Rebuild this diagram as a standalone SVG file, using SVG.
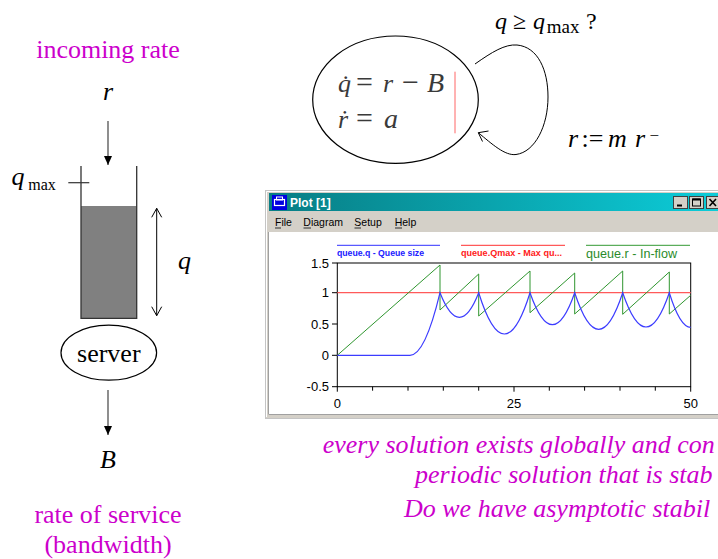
<svg xmlns="http://www.w3.org/2000/svg" width="718" height="559" viewBox="0 0 718 559">
<style>
.serif{font-family:"Liberation Serif","Times New Roman",serif;font-size:26px;fill:#000}
.it{font-style:italic}
.mag{fill:#cc00cc}
.eq{font-family:"Liberation Serif","Times New Roman",serif;font-size:26px;fill:#3a3a3a}
.sans{font-family:"Liberation Sans",Arial,sans-serif}
.menu{font-family:"Liberation Sans",Arial,sans-serif;font-size:10.5px;fill:#000}
.ax{font-family:"Liberation Sans",Arial,sans-serif;font-size:13px;fill:#000}
.line{stroke:#444;stroke-width:1.2;fill:none}
.open{stroke:#000;stroke-width:1;fill:none}
</style>
<defs>
<linearGradient id="tb" x1="0" y1="0" x2="1" y2="0">
<stop offset="0" stop-color="#087d84"/>
<stop offset="1" stop-color="#0cccd8"/>
</linearGradient>
<marker id="fill" markerUnits="userSpaceOnUse" markerWidth="10" markerHeight="10" viewBox="0 0 10 10" refX="9" refY="5" orient="auto">
<path d="M0,1 L9,5 L0,9 Z" fill="#000"/>
</marker>
<marker id="openarr" markerUnits="userSpaceOnUse" markerWidth="12" markerHeight="12" viewBox="0 0 12 12" refX="10" refY="6" orient="auto">
<path d="M1,1 L10,6 L1,11" fill="none" stroke="#000" stroke-width="1"/>
</marker>
</defs>
<rect width="718" height="559" fill="#fff"/>

<!-- left labels -->
<g id="incoming">
<text class="serif mag" x="108" y="58" text-anchor="middle">incoming rate</text>
<text class="serif it" x="108" y="100" text-anchor="middle">r</text>
</g>

<g id="queue">
<rect x="81" y="206" width="55.7" height="112.3" fill="#808080"/>
<path d="M81,166 V318.3 H136.7 V166" fill="none" stroke="#333" stroke-width="1.3"/>
<line x1="68.3" y1="182.7" x2="89.3" y2="182.7" stroke="#333" stroke-width="1.2"/>
<text class="serif it" x="11.5" y="185">q</text>
<text class="serif" x="28.3" y="189.5" style="font-size:16px">max</text>
<text class="serif it" x="178" y="269">q</text>
</g>

<g id="server">
<ellipse cx="108.8" cy="352.7" rx="47.8" ry="27.5" fill="none" stroke="#000" stroke-width="1.2"/>
<text class="serif" x="108.8" y="361.7" text-anchor="middle">server</text>
</g>

<g id="service">
<text class="serif it" x="108" y="468" text-anchor="middle">B</text>
<text class="serif mag" x="108" y="522.7" text-anchor="middle">rate of service</text>
<text class="serif mag" x="108" y="553" text-anchor="middle">(bandwidth)</text>
</g>

<!-- hybrid automaton state -->
<g id="state">
<ellipse cx="395.5" cy="99.7" rx="82.8" ry="63.7" fill="none" stroke="#000" stroke-width="1.2"/>
<text class="eq it" x="338" y="92">q̇</text>
<text class="eq" x="356" y="92" style="font-size:30px">=</text>
<text class="eq it" x="383" y="92">r</text>
<text class="eq" x="402" y="92" style="font-size:30px">−</text>
<text class="eq it" x="427" y="92" style="font-size:28px">B</text>
<text class="eq it" x="338" y="128">ṙ</text>
<text class="eq" x="356" y="128" style="font-size:30px">=</text>
<text class="eq it" x="384" y="128" style="font-size:28px">a</text>
<line x1="455" y1="71.7" x2="455" y2="133.3" stroke="#ff6666" stroke-width="1"/>
</g>

<g id="transition-labels">
<text class="serif it" x="495" y="28.5" style="font-size:24px">q</text>
<text class="serif" x="513" y="28.5" style="font-size:24px">≥</text>
<text class="serif it" x="533" y="28.5" style="font-size:24px">q</text>
<text class="serif" x="546.7" y="33.3" style="font-size:19px">max</text>
<text class="serif" x="586" y="28.5" style="font-size:24px">?</text>
<text class="serif it" x="568" y="146.7">r</text>
<text class="serif" x="581.5" y="146.7">:=</text>
<text class="serif it" x="608" y="146.7">m</text>
<text class="serif it" x="635" y="146.7">r</text>
<text class="serif" x="649.5" y="141" style="font-size:17px">−</text>
</g>

<!-- connectors -->
<g id="connectors">
<line class="line" x1="108" y1="121" x2="108" y2="165" marker-end="url(#fill)"/>
<line class="line" x1="108" y1="390" x2="108" y2="435" marker-end="url(#fill)"/>
<line class="open" x1="156.7" y1="262" x2="156.7" y2="208.3" marker-end="url(#openarr)"/>
<line class="open" x1="156.7" y1="262" x2="156.7" y2="315.7" marker-end="url(#openarr)"/>
<path class="open" d="M475,64 C492,52 505,44 517,45 C538,47 548,70 548,97 C548,126 535,152 516,154.5 C505,156 492,144 478.3,132.7"/>
<path class="open" d="M482.5,141.5 L478.3,132.7 L488.5,131"/>
</g>

<!-- plot window -->
<g id="plot">
<rect x="265.5" y="190.5" width="460" height="228" fill="#d4d0c8" stroke="#c4c4c4"/>
<line x1="266.5" y1="191.5" x2="718" y2="191.5" stroke="#fff"/>
<line x1="266.5" y1="191.5" x2="266.5" y2="417" stroke="#fff"/>
<rect x="269" y="193" width="449" height="18" fill="url(#tb)"/>
<rect x="272" y="195" width="15" height="15" fill="#0000e0"/>
<rect x="274.5" y="199.5" width="10" height="6" fill="none" stroke="#fff" stroke-width="1.2"/>
<rect x="276.5" y="197" width="6" height="3" fill="none" stroke="#fff" stroke-width="1"/>
<text class="sans" x="290" y="206.5" font-size="12" font-weight="bold" fill="#fff">Plot [1]</text>
<g stroke="#000" stroke-width="1">
<rect x="673.5" y="196.5" width="14" height="12" fill="#d4d0c8" stroke="#404040"/>
<line x1="677" y1="205.5" x2="682" y2="205.5" stroke-width="2"/>
<rect x="689.5" y="196.5" width="14" height="12" fill="#d4d0c8" stroke="#404040"/>
<rect x="692.5" y="199" width="8" height="7" fill="none"/>
<line x1="692.5" y1="199.5" x2="700.5" y2="199.5" stroke-width="2"/>
<rect x="706.5" y="196.5" width="14" height="12" fill="#d4d0c8" stroke="#404040"/>
<path d="M709.5,199 L716,206 M716,199 L709.5,206" stroke-width="1.6"/>
</g>
<text class="menu" x="275" y="226">File</text>
<text class="menu" x="303.3" y="226">Diagram</text>
<text class="menu" x="354.3" y="226">Setup</text>
<text class="menu" x="394.7" y="226">Help</text>
<g stroke="#000" stroke-width="0.8">
<line x1="275" y1="228" x2="281" y2="228"/>
<line x1="303.5" y1="228" x2="311" y2="228"/>
<line x1="354.5" y1="228" x2="361" y2="228"/>
<line x1="395" y1="228" x2="402" y2="228"/>
</g>
<rect x="269" y="232" width="449" height="182" fill="#fff"/>
<line x1="269" y1="414.5" x2="718" y2="414.5" stroke="#a0a0a0"/>
<line x1="268.5" y1="232" x2="268.5" y2="414.5" stroke="#a0a0a0"/>

<!-- legend -->
<line x1="337" y1="245.3" x2="440" y2="245.3" stroke="#3030ff"/>
<line x1="461" y1="245.3" x2="565" y2="245.3" stroke="#ff3030"/>
<line x1="586" y1="245.3" x2="690" y2="245.3" stroke="#339933"/>
<text class="sans" x="337" y="255.5" font-size="9" font-weight="bold" fill="#2020ff" textLength="87" lengthAdjust="spacingAndGlyphs">queue.q - Queue size</text>
<text class="sans" x="461" y="255.5" font-size="9" font-weight="bold" fill="#ff2020" textLength="101" lengthAdjust="spacingAndGlyphs">queue.Qmax - Max qu...</text>
<text class="sans" x="586" y="258" font-size="12.5" fill="#2a8a2a" textLength="91" lengthAdjust="spacingAndGlyphs">queue.r - In-flow</text>

<!-- axes -->
<rect x="337.3" y="263" width="353.4" height="123.7" fill="none" stroke="#000" stroke-width="1"/>
<g stroke="#000" stroke-width="1">
<line x1="332" y1="263" x2="337.3" y2="263"/>
<line x1="332" y1="292.7" x2="337.3" y2="292.7"/>
<line x1="332" y1="324" x2="337.3" y2="324"/>
<line x1="332" y1="355.3" x2="337.3" y2="355.3"/>
<line x1="332" y1="386.7" x2="337.3" y2="386.7"/>
<path d="M337.3,386.7 v5 M372.6,386.7 v4 M408,386.7 v4 M443.3,386.7 v4 M478.7,386.7 v4 M514,386.7 v5 M549.3,386.7 v4 M584.6,386.7 v4 M620,386.7 v4 M655.3,386.7 v4 M690.7,386.7 v5"/>
</g>
<text class="ax" x="329" y="267.5" text-anchor="end">1.5</text>
<text class="ax" x="329" y="297.2" text-anchor="end">1</text>
<text class="ax" x="329" y="328.5" text-anchor="end">0.5</text>
<text class="ax" x="329" y="359.8" text-anchor="end">0</text>
<text class="ax" x="329" y="391.2" text-anchor="end">-0.5</text>
<text class="ax" x="337.3" y="407.5" text-anchor="middle">0</text>
<text class="ax" x="514" y="407.5" text-anchor="middle">25</text>
<text class="ax" x="690.7" y="407.5" text-anchor="middle">50</text>

<!-- curves -->
<line x1="337.3" y1="292.7" x2="690.7" y2="292.7" stroke="#ff5a5a" stroke-width="1.3"/>
<polyline fill="none" stroke="#2f962f" stroke-width="1" points="337.3,355.3 440,265 440,310 478.7,274 478.7,316 530,271 530,312.7 574.7,273 574.7,314 622.7,271 622.7,314.3 669.3,272 669.3,314 690.7,295.3"/>
<path fill="none" stroke="#3c3cff" stroke-width="1.2" d="M337.3,355.3 L410,355.3 Q425,355.3 440,292.7 Q459.4,341.9 478.7,292.7 Q504.4,375.3 530,292.7 Q552.4,356.7 574.7,292.7 Q598.7,365.9 622.7,292.7 Q646,361.3 669.3,292.7 Q680,327.3 690.7,327.3"/>
</g>

<g id="caption">
<text class="serif it mag" x="322.7" y="453.3">every solution exists globally and con</text>
<text class="serif it mag" x="415" y="483.3">periodic solution that is stab</text>
<text class="serif it mag" x="404" y="516.7">Do we have asymptotic stabil</text>
</g>
</svg>
